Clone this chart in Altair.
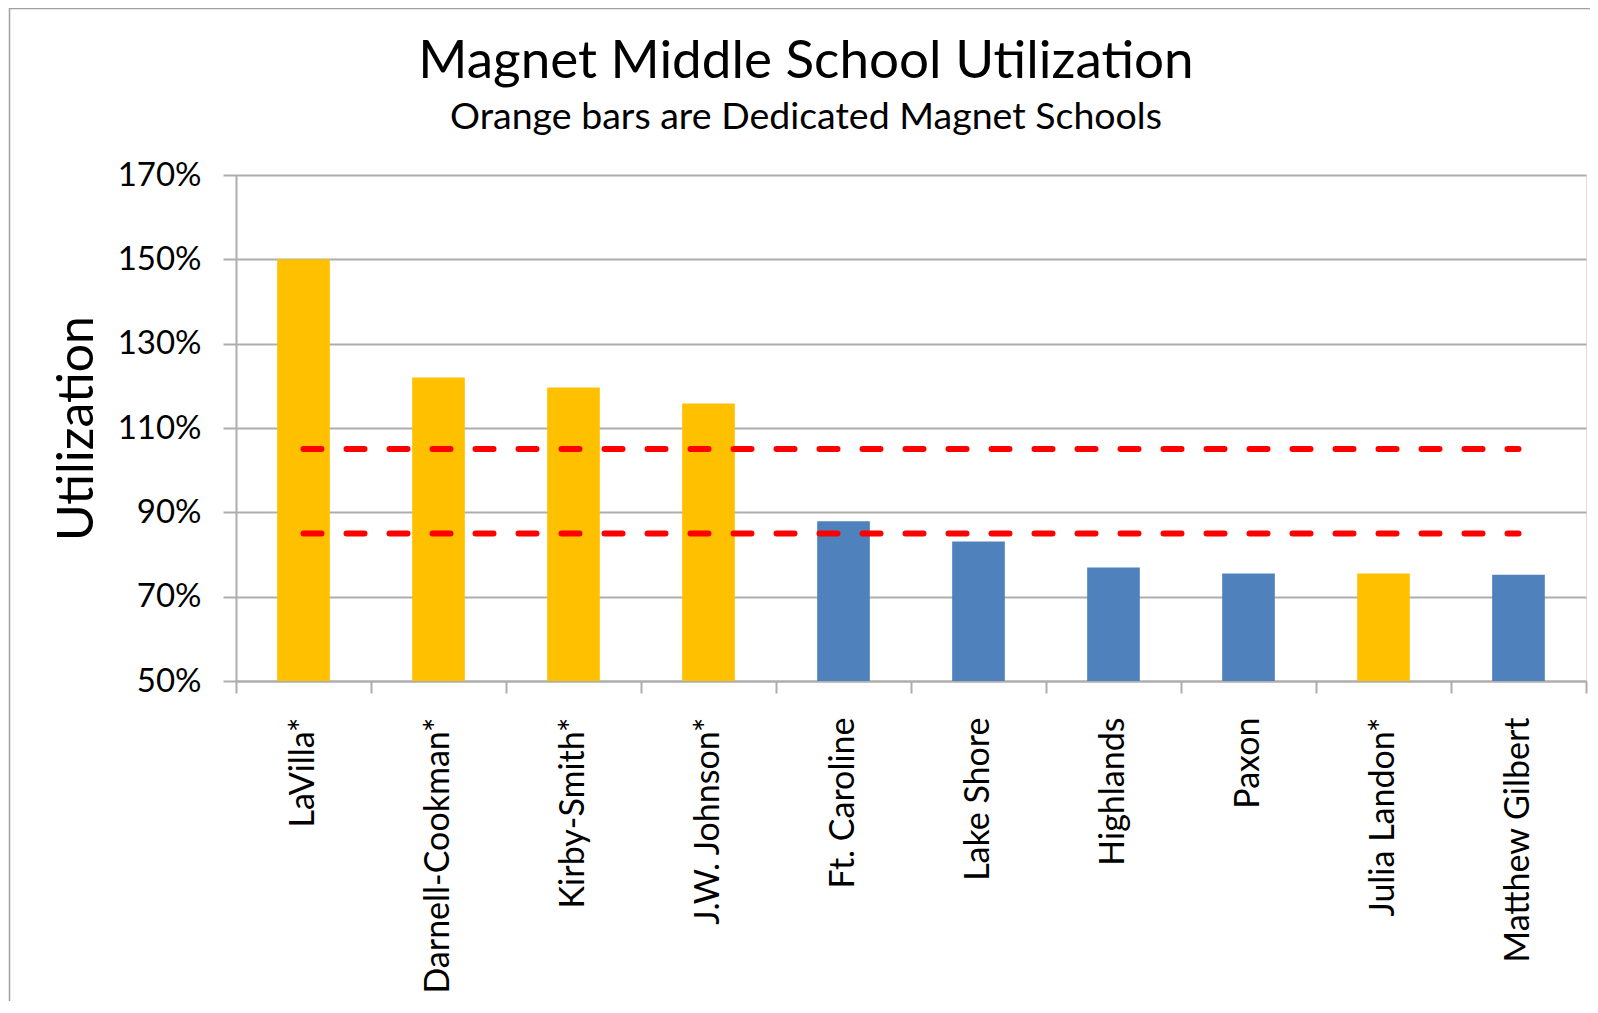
import altair as alt
import pandas as pd

schools = ["LaVilla*", "Darnell-Cookman*", "Kirby-Smith*", "J.W. Johnson*", "Ft. Caroline",
           "Lake Shore", "Highlands", "Paxon", "Julia Landon*", "Matthew Gilbert"]
utilization = [1.50, 1.22, 1.196, 1.158, 0.879, 0.831, 0.769, 0.755, 0.755, 0.752]
school_type = ["Dedicated", "Dedicated", "Dedicated", "Dedicated", "Other",
               "Other", "Other", "Other", "Dedicated", "Other"]

ref_levels = [1.05, 0.85]
ref_names = ["upper", "lower"]

type_domain = ["Dedicated", "Other"]
type_colors = ["#FFC000", "#4F81BD"]

y_ticks = [0.5, 0.7, 0.9, 1.1, 1.3, 1.5, 1.7]

FONT = "Lato"
GRID = "#ADADAD"

bars_df = pd.DataFrame({"School": schools, "Utilization": utilization, "Type": school_type})

ref_rows = []
for lvl, nm in zip(ref_levels, ref_names):
    ref_rows.append({"School": schools[0], "Utilization": lvl, "Line": nm})
    ref_rows.append({"School": schools[-1], "Utilization": lvl, "Line": nm})
ref_df = pd.DataFrame(ref_rows)

x_scale = alt.Scale(paddingInner=0, paddingOuter=0)

x_enc = alt.X(
    "School:N",
    sort=schools,
    scale=x_scale,
    axis=alt.Axis(
        title=None,
        labelAngle=270,
        labelAlign="right",
        labelBaseline="middle",
        labelFont=FONT,
        labelFontSize=34,
        labelColor="black",
        labelPadding=24,
        tickBand="extent",
        tickSize=12,
        tickColor=GRID,
        tickWidth=2,
        domainColor=GRID,
        domainWidth=2,
        grid=False,
        labelLimit=0,
    ),
)

y_scale = alt.Scale(domain=[0.5, 1.7], zero=False, nice=False)
y_axis = alt.Axis(
    title="Utilization",
    values=y_ticks,
    format=".0%",
    labelFont=FONT,
    labelFontSize=33,
    labelColor="black",
    labelPadding=22,
    tickSize=13,
    tickColor=GRID,
    tickWidth=2,
    domainColor=GRID,
    domainWidth=2,
    grid=True,
    gridColor=GRID,
    gridWidth=2,
    titleFont=FONT,
    titleFontSize=50,
    titleFontWeight="normal",
    titleColor="black",
    titleAngle=270,
    titleAlign="center",
    titleBaseline="alphabetic",
    titleX=-144,
    titleY=253,
)

bars = alt.Chart(bars_df).mark_bar(width=alt.RelativeBandSize(0.39)).encode(
    x=x_enc,
    y=alt.Y("Utilization:Q", scale=y_scale, axis=y_axis),
    y2=alt.datum(0.5),
    color=alt.Color("Type:N", scale=alt.Scale(domain=type_domain, range=type_colors), legend=None),
)

lines = alt.Chart(ref_df).mark_line(
    color="#FF0000", strokeWidth=6, strokeDash=[18, 25], strokeCap="round"
).encode(
    x=alt.X("School:N", sort=schools, scale=x_scale),
    y=alt.Y("Utilization:Q", scale=y_scale),
    detail="Line:N",
)

border = alt.Chart(pd.DataFrame({"k": [0]})).mark_rect(
    fill=None, stroke="#A0A0A0", strokeWidth=1.5, clip=False
).encode(
    x=alt.value(-226.5), x2=alt.value(2000),
    y=alt.value(-166.5), y2=alt.value(2000),
)

chart = alt.layer(bars, lines, border).properties(
    width=1350,
    height=506,
    padding={"left": 228, "top": 167, "right": 4, "bottom": 320},
    autosize=alt.AutoSizeParams(type="none"),
    title=alt.TitleParams(
        text="Magnet Middle School Utilization",
        subtitle="Orange bars are Dedicated Magnet Schools",
        anchor="middle",
        frame="group",
        dx=-105,
        font=FONT,
        fontSize=53,
        fontWeight="normal",
        color="black",
        subtitleFont=FONT,
        subtitleFontSize=37.5,
        subtitleColor="black",
        subtitlePadding=10,
        offset=-129,
    ),
).configure_view(stroke=None).configure(background="white")

chart.save("out.html", embed_options={"renderer": "svg", "actions": False})
